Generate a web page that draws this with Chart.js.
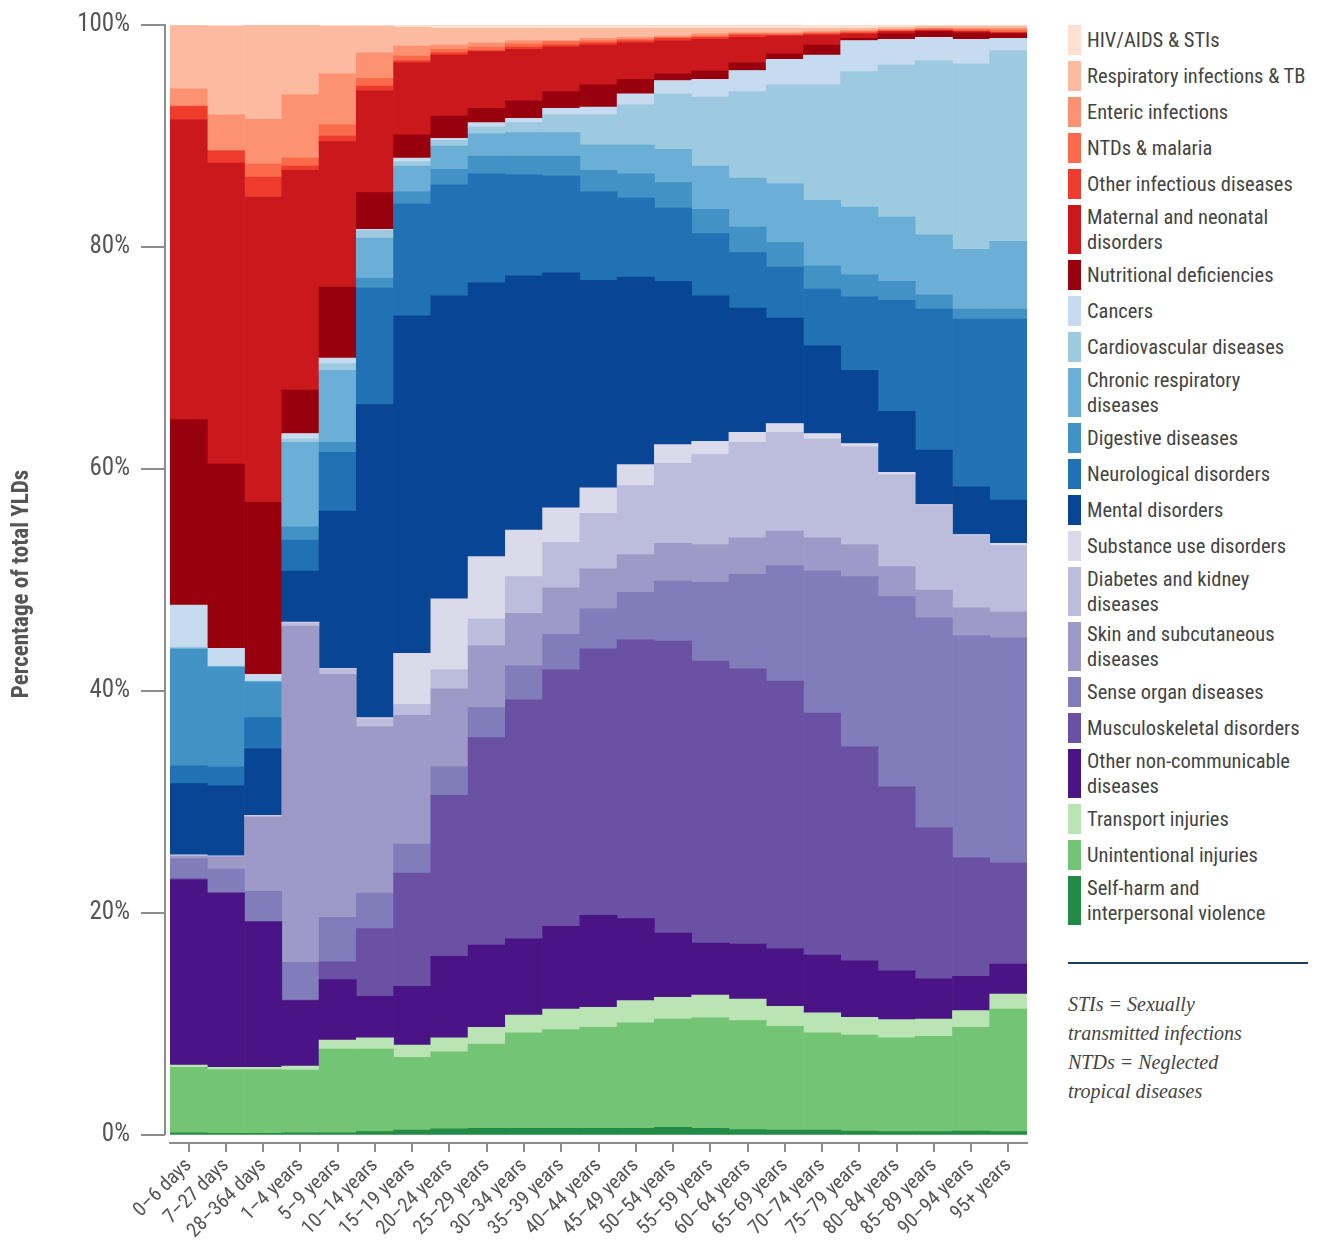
<!DOCTYPE html>
<html>
<head>
<meta charset="utf-8">
<script src="https://cdn.jsdelivr.net/npm/chart.js@4.4.1/dist/chart.umd.min.js"></script>
<style>
  html, body { margin: 0; padding: 0; background: #fff; }
  body { width: 1318px; height: 1258px; position: relative; overflow: hidden;
         font-family: 'Liberation Sans Narrow', 'Roboto Condensed', 'Arial Narrow', Roboto, sans-serif; color: #444; }
  #chart-wrap { position: absolute; left: 0; top: 0; width: 1045px; height: 1258px; }
  #legend { position: absolute; left: 1068px; top: 25px; width: 250px; margin: 0; padding: 0; list-style: none; }
  #legend li { display: flex; min-height: 30px; margin-bottom: 6px; }
  #legend .sw { width: 13px; flex: 0 0 13px; margin-right: 6px; }
  #legend .txt { font-size: 20.5px; line-height: 24.5px; align-self: center; color: #444; }
  #rule { position: absolute; left: 1068px; top: 962px; width: 240px; height: 0; border-top: 2px solid #1d3b63; }
  #notes { position: absolute; left: 1068px; top: 990px; font-family: 'Liberation Serif', 'DejaVu Serif', serif;
           font-style: italic; font-size: 20px; line-height: 29px; color: #444; }
</style>
</head>
<body>
<div id="chart-wrap"><canvas id="yld-chart"></canvas></div>
<ul id="legend"></ul>
<div id="rule"></div>
<div id="notes">STIs = Sexually<br>transmitted infections<br>NTDs = Neglected<br>tropical diseases</div>
<script>
const ageGroups = ['0–6 days', '7–27 days', '28–364 days', '1–4 years', '5–9 years', '10–14 years',
  '15–19 years', '20–24 years', '25–29 years', '30–34 years', '35–39 years', '40–44 years',
  '45–49 years', '50–54 years', '55–59 years', '60–64 years', '65–69 years', '70–74 years',
  '75–79 years', '80–84 years', '85–89 years', '90–94 years', '95+ years'];

const yTicks = [0, 20, 40, 60, 80, 100];

// share of total YLDs (%) per age group, bottom of the stack first
const selfHarm = [0.2, 0.15, 0.15, 0.2, 0.2, 0.3, 0.45, 0.55, 0.6, 0.6, 0.6, 0.6, 0.6, 0.7, 0.6, 0.5, 0.45, 0.45, 0.35, 0.3, 0.3, 0.35, 0.3];
const unintentional = [5.9, 5.75, 5.75, 5.65, 7.55, 7.45, 6.55, 6.95, 7.6, 8.6, 8.9, 9.1, 9.5, 9.75, 9.95, 9.8, 9.35, 8.75, 8.65, 8.45, 8.6, 9.35, 11.05];
const transport = [0.2, 0.2, 0.2, 0.35, 0.8, 1.0, 1.1, 1.25, 1.5, 1.6, 1.85, 1.8, 2.0, 1.95, 2.05, 1.95, 1.8, 1.8, 1.6, 1.65, 1.55, 1.5, 1.35];
const otherNcd = [16.7, 15.7, 13.1, 5.9, 5.45, 3.75, 5.3, 7.35, 7.4, 6.9, 7.45, 8.3, 7.4, 5.8, 4.7, 4.95, 5.2, 5.2, 5.1, 4.4, 3.65, 3.1, 2.7];
const musculoskeletal = [0.1, 0.05, 0.05, 0.05, 1.6, 6.1, 10.2, 14.5, 18.7, 21.5, 23.1, 24.0, 25.1, 26.3, 25.4, 24.8, 24.1, 21.8, 19.3, 16.6, 13.6, 10.7, 9.1];
const senseOrgan = [1.8, 2.1, 2.7, 3.4, 4.0, 3.2, 2.6, 2.6, 2.7, 3.1, 3.2, 3.6, 4.3, 5.4, 7.1, 8.5, 10.4, 12.8, 15.3, 17.1, 18.9, 20.0, 20.3];
const skin = [0.2, 1.1, 6.7, 30.3, 21.9, 15.0, 11.6, 7.0, 5.6, 4.7, 4.2, 3.6, 3.4, 3.4, 3.4, 3.3, 3.1, 3.0, 2.9, 2.7, 2.5, 2.5, 2.3];
const diabetesKidney = [0.1, 0.05, 0.1, 0.3, 0.5, 0.7, 1.0, 1.7, 2.4, 3.3, 4.1, 5.0, 6.2, 7.2, 8.1, 8.6, 8.9, 8.9, 8.8, 8.3, 7.6, 6.5, 6.0];
const substanceUse = [0.05, 0.05, 0.05, 0.05, 0.05, 0.1, 4.6, 6.4, 5.6, 4.2, 3.1, 2.3, 1.9, 1.7, 1.2, 0.9, 0.8, 0.5, 0.3, 0.2, 0.1, 0.1, 0.2];
const mental = [6.4, 6.3, 6.0, 4.6, 14.15, 28.2, 30.4, 27.3, 24.7, 22.9, 21.2, 18.7, 16.9, 14.7, 13.1, 11.2, 9.5, 7.9, 6.6, 5.5, 4.9, 4.3, 3.9];
const neurological = [1.6, 1.7, 2.8, 2.8, 5.3, 10.5, 10.1, 10.0, 9.8, 9.1, 8.7, 8.0, 7.1, 6.6, 5.6, 5.0, 4.6, 5.1, 6.6, 10.0, 12.7, 15.1, 16.3];
const digestive = [10.5, 9.0, 3.2, 1.2, 0.9, 0.9, 1.1, 1.4, 1.6, 1.7, 1.8, 1.9, 2.2, 2.3, 2.2, 2.3, 2.2, 2.1, 2.0, 1.7, 1.3, 0.9, 0.9];
const chronicResp = [0.1, 0.05, 0.05, 7.6, 6.5, 3.6, 2.3, 2.1, 2.0, 2.1, 2.1, 2.3, 2.6, 3.0, 3.9, 4.4, 5.3, 5.9, 6.1, 5.8, 5.4, 5.4, 6.1];
const cardiovascular = [0.1, 0.05, 0.05, 0.3, 0.6, 0.7, 0.4, 0.5, 0.6, 0.9, 1.6, 2.7, 3.6, 5.0, 6.2, 7.8, 8.9, 10.4, 12.2, 13.7, 15.7, 16.7, 17.2];
const cancers = [3.8, 1.6, 0.6, 0.5, 0.5, 0.1, 0.3, 0.2, 0.4, 0.4, 0.6, 0.7, 1.0, 1.2, 1.6, 1.9, 2.3, 2.7, 2.8, 2.3, 2.1, 2.2, 1.1];
const nutritional = [16.7, 16.6, 15.5, 3.9, 6.4, 3.3, 2.1, 2.0, 1.3, 1.6, 1.5, 2.0, 1.3, 0.6, 0.8, 0.7, 0.5, 0.9, 0.2, 0.5, 0.5, 0.6, 0.4];
const maternalNeonatal = [27.0, 27.1, 27.5, 19.8, 13.1, 9.2, 6.5, 5.5, 5.1, 4.6, 4.0, 3.6, 3.3, 3.0, 2.8, 2.3, 1.6, 0.9, 0.4, 0.2, 0.1, 0.1, 0.1];
const otherInfectious = [1.2, 1.1, 1.8, 0.4, 0.5, 0.4, 0.2, 0.2, 0.1, 0.2, 0.2, 0.2, 0.2, 0.2, 0.2, 0.2, 0.1, 0.1, 0.1, 0.05, 0.05, 0.05, 0.05];
const ntdsMalaria = [0.1, 0.05, 1.2, 0.7, 1.0, 0.7, 0.4, 0.3, 0.3, 0.3, 0.3, 0.2, 0.1, 0.1, 0.1, 0.1, 0.1, 0.1, 0.1, 0.1, 0.1, 0.15, 0.2];
const enteric = [1.5, 3.2, 4.0, 5.7, 4.6, 2.3, 0.9, 0.4, 0.4, 0.3, 0.1, 0.2, 0.2, 0.1, 0.2, 0.1, 0.1, 0.1, 0.1, 0.05, 0.05, 0.1, 0.15];
const respInfections = [5.7, 8.0, 8.5, 6.3, 4.3, 2.4, 1.7, 1.5, 1.3, 1.1, 1.1, 0.9, 0.8, 0.7, 0.5, 0.4, 0.4, 0.3, 0.2, 0.2, 0.2, 0.2, 0.2];
const hivStis = [0.1, 0.1, 0.1, 0.1, 0.1, 0.1, 0.2, 0.3, 0.3, 0.3, 0.3, 0.3, 0.3, 0.3, 0.3, 0.3, 0.3, 0.3, 0.3, 0.2, 0.2, 0.2, 0.1];

const causes = [
  { label: 'Self-harm and\ninterpersonal violence', color: '#238b45', data: selfHarm },
  { label: 'Unintentional injuries', color: '#74c476', data: unintentional },
  { label: 'Transport injuries', color: '#bae4b3', data: transport },
  { label: 'Other non-communicable\ndiseases', color: '#4a1486', data: otherNcd },
  { label: 'Musculoskeletal disorders', color: '#6a51a3', data: musculoskeletal },
  { label: 'Sense organ diseases', color: '#807dba', data: senseOrgan },
  { label: 'Skin and subcutaneous\ndiseases', color: '#9e9ac8', data: skin },
  { label: 'Diabetes and kidney\ndiseases', color: '#bcbddc', data: diabetesKidney },
  { label: 'Substance use disorders', color: '#dadaeb', data: substanceUse },
  { label: 'Mental disorders', color: '#084594', data: mental },
  { label: 'Neurological disorders', color: '#2171b5', data: neurological },
  { label: 'Digestive diseases', color: '#4292c6', data: digestive },
  { label: 'Chronic respiratory\ndiseases', color: '#6baed6', data: chronicResp },
  { label: 'Cardiovascular diseases', color: '#9ecae1', data: cardiovascular },
  { label: 'Cancers', color: '#c6dbef', data: cancers },
  { label: 'Nutritional deficiencies', color: '#99000d', data: nutritional },
  { label: 'Maternal and neonatal\ndisorders', color: '#cb181d', data: maternalNeonatal },
  { label: 'Other infectious diseases', color: '#ef3b2c', data: otherInfectious },
  { label: 'NTDs & malaria', color: '#fb6a4a', data: ntdsMalaria },
  { label: 'Enteric infections', color: '#fc9272', data: enteric },
  { label: 'Respiratory infections & TB', color: '#fcbba1', data: respInfections },
  { label: 'HIV/AIDS & STIs', color: '#fee0d2', data: hivStis },
];

const FONT = "'Liberation Sans Narrow', 'Roboto Condensed', 'Arial Narrow', Roboto, sans-serif";
const AXIS_GREY = '#8c8c8c';

function renderLegend() {
  const ul = document.getElementById('legend');
  causes.slice().reverse().forEach((c) => {
    const li = document.createElement('li');
    const sw = document.createElement('span');
    sw.className = 'sw';
    sw.style.background = c.color;
    const txt = document.createElement('span');
    txt.className = 'txt';
    txt.innerHTML = c.label.replace('\n', '<br>');
    li.appendChild(sw);
    li.appendChild(txt);
    ul.appendChild(li);
  });
}

// y axis line sits a few px left of the first bar, ticks drawn with it
const detachedYAxis = {
  id: 'detachedYAxis',
  afterDraw(chart) {
    const { ctx, chartArea, scales } = chart;
    const x0 = chartArea.left - 5;
    ctx.save();
    ctx.strokeStyle = AXIS_GREY;
    ctx.lineWidth = 2;
    ctx.beginPath();
    ctx.moveTo(x0, scales.y.getPixelForValue(100) - 1);
    ctx.lineTo(x0, scales.y.getPixelForValue(0));
    yTicks.forEach((v) => {
      const py = Math.round(scales.y.getPixelForValue(v));
      ctx.moveTo(x0 - 24, py);
      ctx.lineTo(x0, py);
    });
    ctx.stroke();
    ctx.restore();
  },
};

function renderChart() {
  const canvas = document.getElementById('yld-chart');
  new Chart(canvas, {
    type: 'bar',
    data: {
      labels: ageGroups,
      datasets: causes.map((c) => ({
        label: c.label.replace('\n', ' '),
        data: c.data,
        backgroundColor: c.color,
        borderWidth: 0,
        barPercentage: 1,
        categoryPercentage: 1,
      })),
    },
    options: {
      responsive: true,
      maintainAspectRatio: false,
      animation: false,
      layout: { padding: { top: 25, right: 18, left: 0, bottom: 0 } },
      plugins: { legend: { display: false }, tooltip: { enabled: false } },
      scales: {
        x: {
          stacked: true,
          afterFit: (scale) => { scale.height = 115; },
          border: { display: true, color: AXIS_GREY, width: 2 },
          grid: { display: true, drawOnChartArea: false, drawTicks: true, tickLength: 9, offset: false, color: AXIS_GREY, lineWidth: 2 },
          ticks: { color: '#555', font: { family: FONT, size: 20 }, minRotation: 45, maxRotation: 45, padding: 2, autoSkip: false },
        },
        y: {
          stacked: true,
          min: -0.72,
          max: 100,
          afterFit: (scale) => { scale.width = 170; },
          afterBuildTicks: (scale) => { scale.ticks = yTicks.map((v) => ({ value: v })); },
          border: { display: false },
          grid: { drawOnChartArea: false, drawTicks: true, tickLength: 30, color: 'rgba(0,0,0,0)' },
          ticks: { color: '#555', font: { family: FONT, size: 25 }, padding: 10, callback: (v) => `${v}%` },
          title: { display: true, text: 'Percentage of total YLDs', color: '#555', font: { family: FONT, size: 23, weight: 'bold' }, padding: { top: 8, bottom: 0 } },
        },
      },
    },
    plugins: [detachedYAxis],
  });
}

renderLegend();
renderChart();
</script>
</body>
</html>
